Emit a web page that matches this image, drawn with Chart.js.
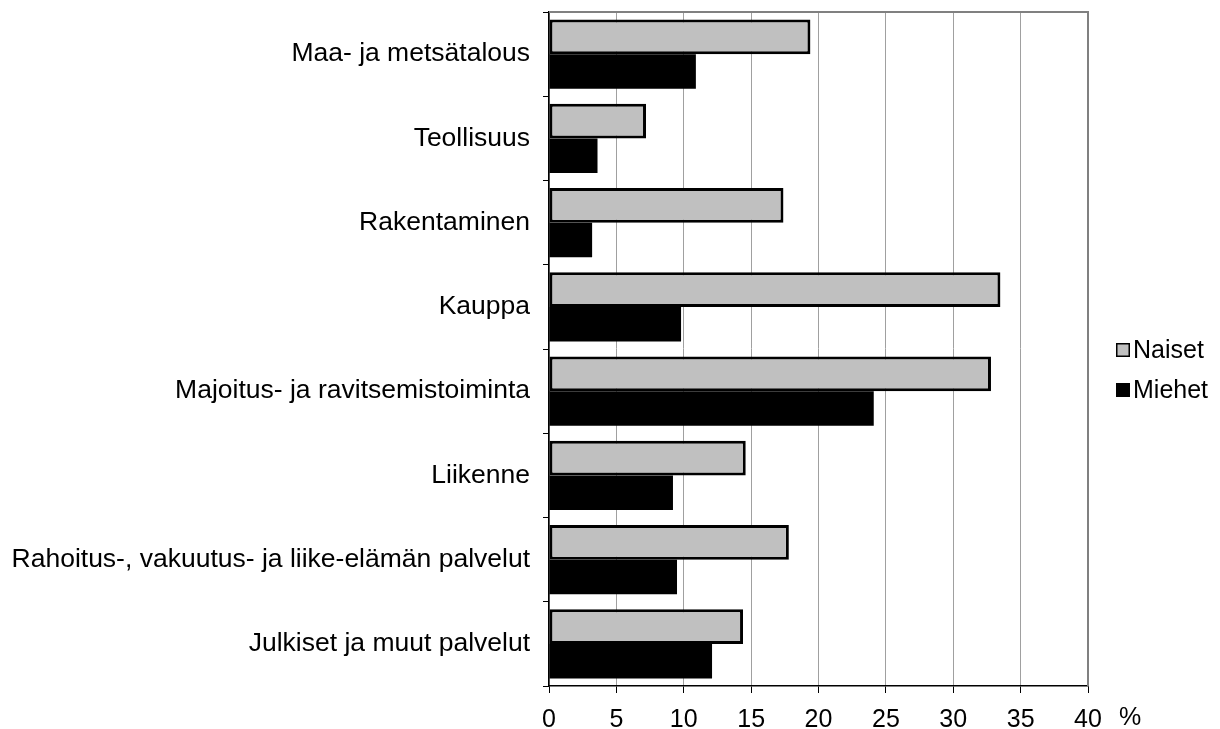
<!DOCTYPE html>
<html>
<head>
<meta charset="utf-8">
<script src="https://cdn.jsdelivr.net/npm/chart.js@4/dist/chart.umd.min.js"></script>
<style>
  body { margin: 0; background: #fff; }
  #wrap { width: 1220px; height: 729px; }
</style>
</head>
<body>
<div id="wrap"><canvas id="myBarChart" width="1220" height="729"></canvas></div>
<script>
// data
const categories = [
  'Maa- ja metsätalous',
  'Teollisuus',
  'Rakentaminen',
  'Kauppa',
  'Majoitus- ja ravitsemistoiminta',
  'Liikenne',
  'Rahoitus-, vakuutus- ja liike-elämän palvelut',
  'Julkiset ja muut palvelut'
];
const naiset = [19.4, 7.2, 17.4, 33.5, 32.8, 14.6, 17.8, 14.4];
const miehet = [10.9, 3.6, 3.2, 9.8, 24.1, 9.2, 9.5, 12.1];
const xTicks = [0, 5, 10, 15, 20, 25, 30, 35, 40];

const FONT = 'Liberation Sans, Arial, sans-serif';

// grey frame on top and right, the % sign after the last tick, and the legend
const framePlugin = {
  id: 'frame',
  afterDraw(chart) {
    const { ctx, chartArea: a } = chart;
    ctx.save();
    ctx.strokeStyle = '#808080';
    ctx.lineWidth = 2;
    ctx.beginPath();
    ctx.moveTo(a.left, a.top);
    ctx.lineTo(a.right, a.top);
    ctx.lineTo(a.right, a.bottom);
    ctx.stroke();

    const x = chart.scales.x;
    ctx.fillStyle = '#000';
    ctx.font = '25px ' + FONT;
    ctx.textAlign = 'center';
    ctx.textBaseline = 'middle';
    ctx.fillText('%', x.right + 42, 718);

    // legend on the right, one row per dataset
    ctx.textAlign = 'left';
    chart.data.datasets.forEach((ds, i) => {
      const cy = 350 + i * 40;
      const bx = x.right + 28;
      ctx.fillStyle = ds.backgroundColor;
      ctx.fillRect(bx, cy - 7, 14, 14);
      ctx.strokeStyle = '#000';
      ctx.lineWidth = 1.5;
      ctx.strokeRect(bx + 0.75, cy - 6.25, 12.5, 12.5);
      ctx.fillStyle = '#000';
      ctx.fillText(ds.label, bx + 17, cy + 1);
    });
    ctx.restore();
  }
};

const ctx = document.getElementById('myBarChart').getContext('2d');
new Chart(ctx, {
  type: 'bar',
  data: {
    labels: categories,
    datasets: [{
      label: 'Naiset',
      data: naiset,
      backgroundColor: '#c0c0c0',
      borderColor: '#000000',
      borderWidth: 3,
      borderSkipped: false
    }, {
      label: 'Miehet',
      data: miehet,
      backgroundColor: '#000000',
      borderColor: '#000000',
      borderWidth: 0
    }]
  },
  options: {
    indexAxis: 'y',
    responsive: false,
    animation: false,
    devicePixelRatio: 1,
    categoryPercentage: 0.82,
    barPercentage: 1.0,
    layout: { padding: { top: 12, left: 0, right: 132, bottom: 0 } },
    plugins: {
      tooltip: { enabled: false },
      legend: { display: false }
    },
    scales: {
      x: {
        min: 0,
        max: 40,
        afterBuildTicks: (scale) => { scale.ticks = xTicks.map(v => ({ value: v })); },
        afterFit: (scale) => { scale.height = 43; },
        grid: {
          color: '#a0a0a0',
          lineWidth: 1,
          tickColor: '#000',
          tickLength: 7
        },
        border: { display: true, color: '#000', width: 1.5 },
        ticks: {
          color: '#000',
          font: { family: FONT, size: 25 },
          padding: 12,
          maxRotation: 0
        }
      },
      y: {
        afterFit: (scale) => {
          scale.width = 549;
          scale.paddingTop = 0;
          scale.paddingBottom = 0;
        },
        grid: {
          drawOnChartArea: false,
          tickColor: '#000',
          tickLength: 6
        },
        border: { display: true, color: '#000', width: 1.5 },
        ticks: {
          color: '#000',
          font: { family: FONT, size: 26.5 },
          padding: 13
        }
      }
    }
  },
  plugins: [framePlugin]
});
</script>
</body>
</html>
